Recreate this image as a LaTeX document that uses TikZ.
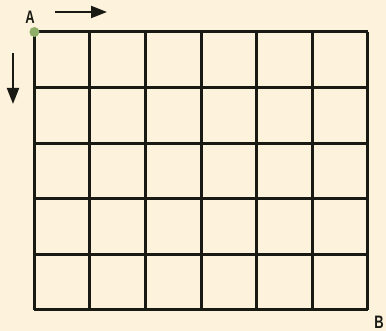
\documentclass[tikz,border=0pt]{standalone}
\usepackage{fontspec}
\setmainfont{Liberation Sans}
\usetikzlibrary{arrows.meta}
\definecolor{bgcream}{HTML}{FDF3DC}
\definecolor{dotgreen}{HTML}{8FAF68}
\definecolor{inkblack}{HTML}{1A1A14}
\tikzset{
  gridline/.style={draw=inkblack, line width=3pt},
  dirarrow/.style={draw=inkblack, line width=2pt, -{Triangle[length=16pt,width=12pt]}},
  ptlabel/.style={font=\fontsize{18pt}{18pt}\selectfont\bfseries, text=inkblack, inner sep=0pt},
}
\begin{document}
\begin{tikzpicture}[x=1pt,y=-1pt]
\fill[bgcream] (0,0) rectangle (386,331);
\useasboundingbox (0,0) rectangle (386,331);
% grid
\foreach \i in {0,...,6} {
  \draw[gridline] ({34.4+\i*55.55},32) -- ({34.4+\i*55.55},310);
}
\foreach \j in {0,...,5} {
  \draw[gridline] (34.4,{32+\j*55.6}) -- (367.7,{32+\j*55.6});
}
\coordinate (A) at (34.4,32);
\coordinate (B) at (367.7,310);
\fill[dotgreen] (A) circle (5pt);
\node[ptlabel, xscale=0.72] (la) at (30,17) {A};
\node[ptlabel, xscale=0.72] (lb) at (379,322) {B};
\coordinate (r1) at (55,12);
\coordinate (r2) at (107,12);
\coordinate (d1) at (13,53);
\coordinate (d2) at (13,104);
\draw[dirarrow] (r1) -- (r2);
\draw[dirarrow] (d1) -- (d2);
\end{tikzpicture}
\end{document}
